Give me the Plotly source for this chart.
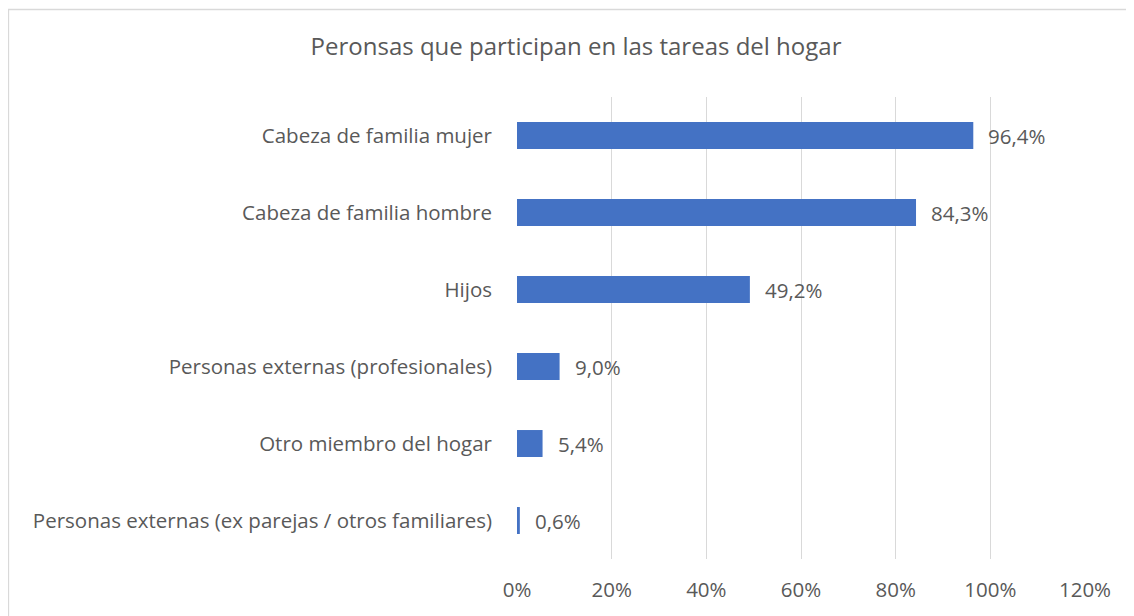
import plotly.graph_objects as go

categories = [
    "Cabeza de familia mujer",
    "Cabeza de familia hombre",
    "Hijos",
    "Personas externas (profesionales)",
    "Otro miembro del hogar",
    "Personas externas (ex parejas / otros familiares)",
]
values = [0.964, 0.843, 0.492, 0.090, 0.054, 0.006]
labels = ["96,4%", "84,3%", "49,2%", "9,0%", "5,4%", "0,6%"]
tick_vals = [0, 0.2, 0.4, 0.6, 0.8, 1.0, 1.2]
tick_text = ["0%", "20%", "40%", "60%", "80%", "100%", "120%"]

FONT = "Open Sans"
GREY = "#595959"
FS = 20.5

fig = go.Figure()
fig.add_trace(go.Bar(
    y=categories, x=values, orientation="h",
    marker=dict(color="#4472C4", line=dict(width=0)),
    hoverinfo="skip",
))

for c, v, t in zip(categories, values, labels):
    fig.add_annotation(x=v, y=c, text=t, showarrow=False, xanchor="left",
                       xshift=13, font=dict(family=FONT, size=FS, color=GREY))

OFF = 8  # default page body margin
W, H = 1134 - OFF, 616 - OFF
L, R, T, B = 517 - OFF, 49, 97 - OFF, 57
pw, ph = W - L - R, H - T - B

def px(x):
    return (x - OFF - L) / pw

def py(y):
    return 1 - (y - OFF - T) / ph

fig.add_shape(type="rect", xref="paper", yref="paper",
              x0=px(8.5), x1=px(1140), y0=py(620), y1=py(9.5),
              line=dict(color="#D9D9D9", width=1.3), layer="below")

fig.update_layout(
    width=W, height=H,
    margin=dict(l=L, r=R, t=T, b=B),
    paper_bgcolor="white", plot_bgcolor="white",
    showlegend=False,
    bargap=0.65,
    title=dict(text="Peronsas que participan en las tareas del hogar",
               x=(576 - OFF) / W, xref="container", xanchor="center",
               y=1 - (47 - OFF) / H, yanchor="middle",
               font=dict(family=FONT, size=24, color=GREY)),
    xaxis=dict(range=[0, 1.2], tickvals=tick_vals, ticktext=tick_text,
               showgrid=True, gridcolor="#D9D9D9", gridwidth=1.3,
               zeroline=False, showline=False, ticks="",
               ticklabelstandoff=16,
               tickfont=dict(family=FONT, size=FS, color=GREY)),
    yaxis=dict(categoryorder="array", categoryarray=categories[::-1],
               showgrid=False, zeroline=False, showline=False, ticks="",
               ticklabelstandoff=24,
               tickfont=dict(family=FONT, size=FS, color=GREY)),
)

fig.write_html("out.html")
